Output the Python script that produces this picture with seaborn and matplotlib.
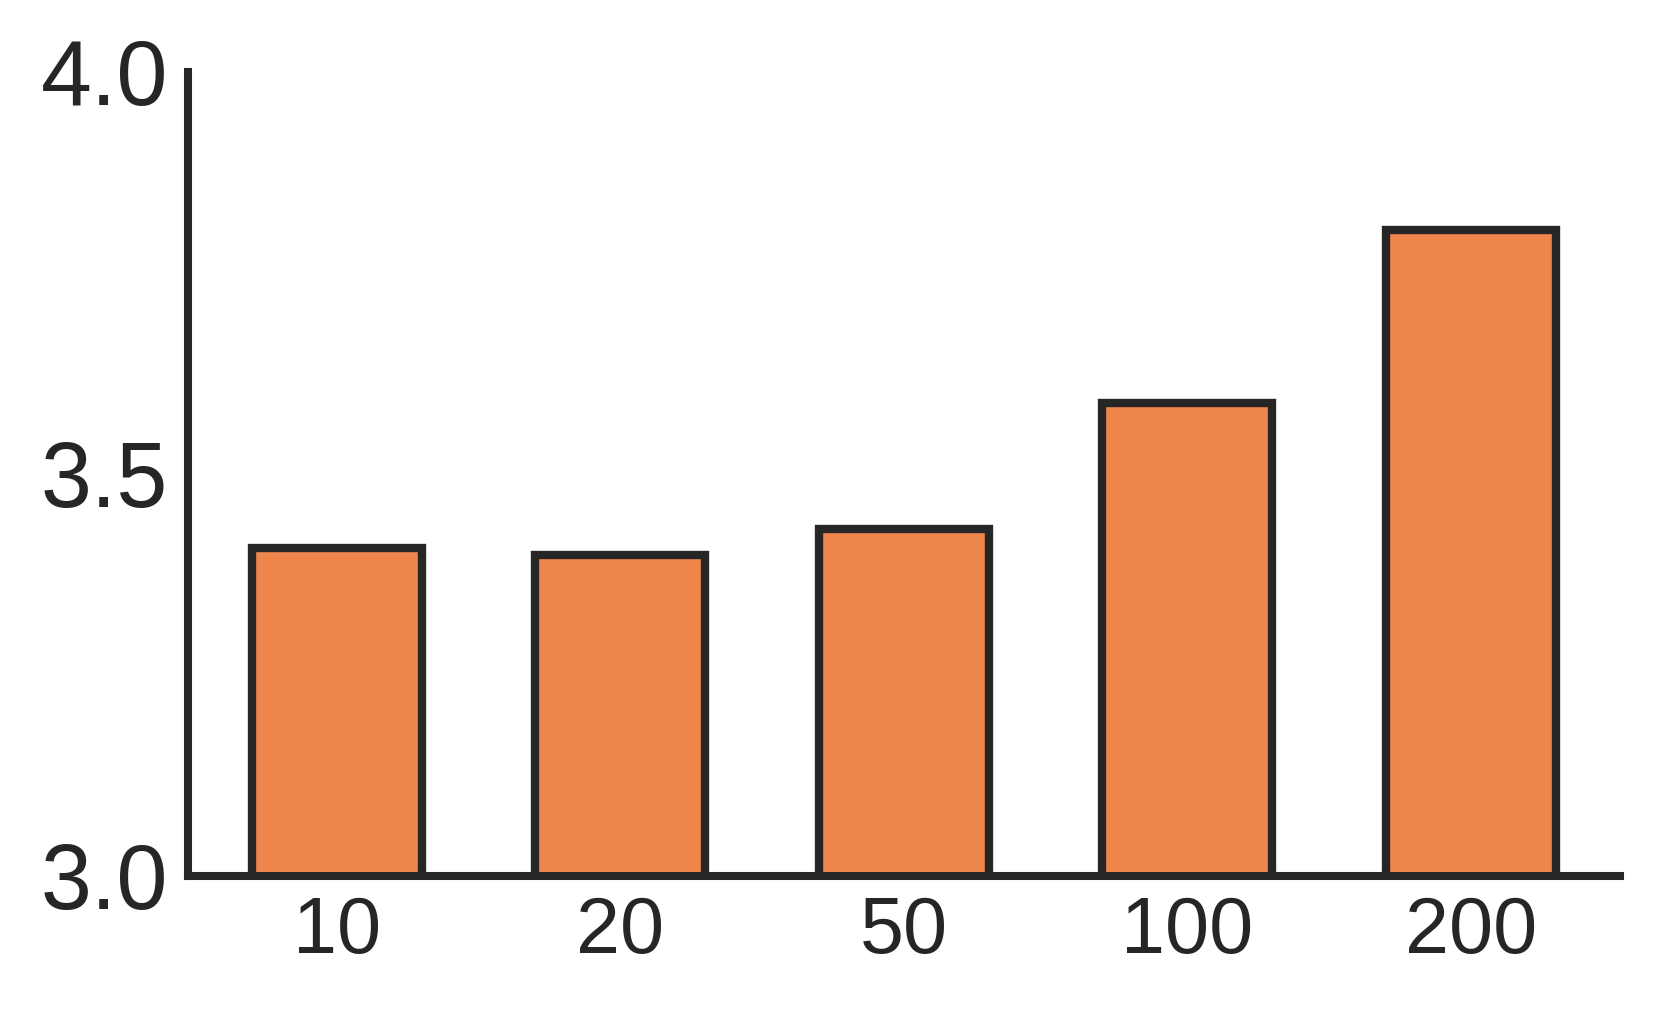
import matplotlib
matplotlib.use("Agg")
import matplotlib.pyplot as plt
import seaborn as sns
import pandas as pd

categories = ["10", "20", "50", "100", "200"]
values = [3.408, 3.399, 3.432, 3.588, 3.804]
yticks = [3.0, 3.5, 4.0]
ytick_labels = ["3.0", "3.5", "4.0"]

sns.set_theme(style="white")
plt.rcParams['font.family'] = ['Liberation Sans', 'DejaVu Sans']

df = pd.DataFrame({"cat": categories, "val": values})

fig = plt.figure(figsize=(8.31, 5.05), dpi=200)
ax = fig.add_axes([187.5 / 1662, 1 - 876 / 1010, (1620 - 187.5) / 1662, (876 - 72) / 1010])

sns.barplot(data=df, x="cat", y="val", ax=ax, color="#EE854A", saturation=1,
            width=0.6, edgecolor="#262626", linewidth=3.0, order=categories)

ax.set_ylim(3.0, 4.0)
ax.set_xlim(-0.527, 4.527)
ax.set_yticks(yticks)
ax.set_yticklabels(ytick_labels, fontsize=33, color="#262626")
ax.tick_params(axis="x", labelsize=28.5, colors="#262626", length=0, pad=7)
ax.tick_params(axis="y", length=0, pad=7)
ax.set_xlabel("")
ax.set_ylabel("")

for s in ["top", "right"]:
    ax.spines[s].set_visible(False)
for s in ["left", "bottom"]:
    ax.spines[s].set_linewidth(2.9)
    ax.spines[s].set_color("#262626")

fig.savefig("out.png", dpi=200)
